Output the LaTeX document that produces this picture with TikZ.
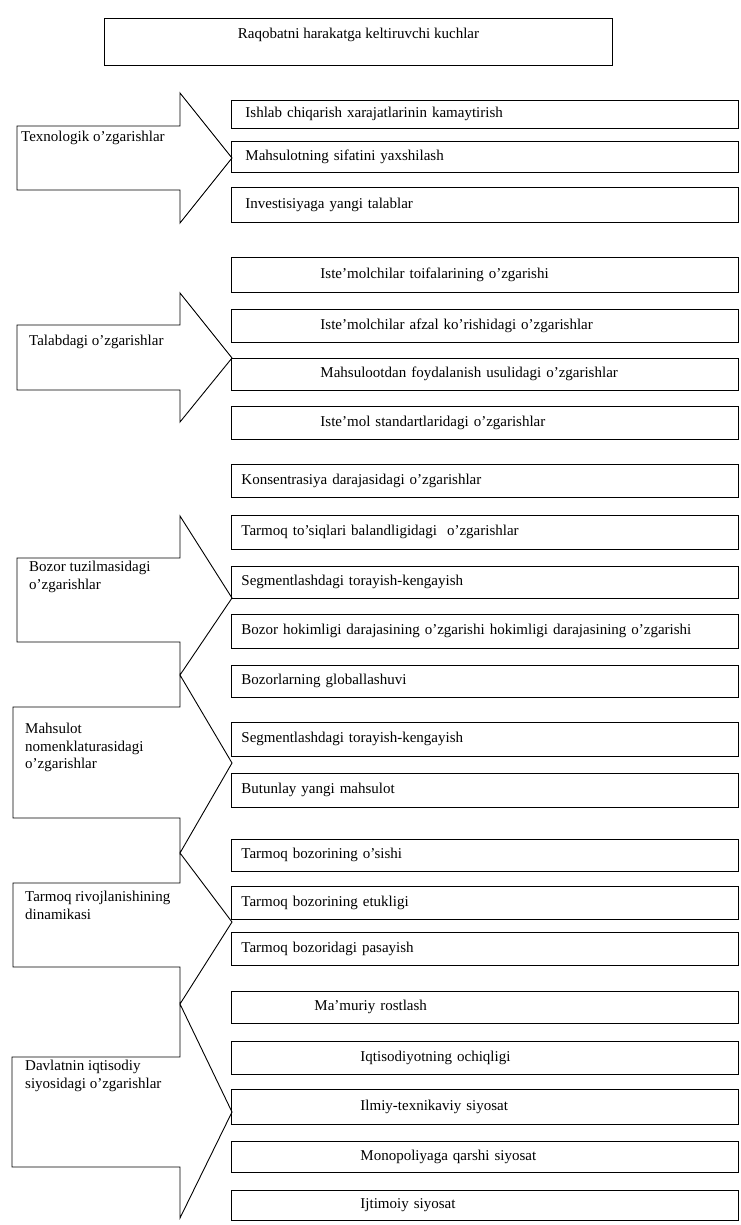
\documentclass[tikz,border=0pt]{standalone}
\usepackage{fontspec}
\setmainfont{Liberation Serif}
\begin{document}
\begin{tikzpicture}[x=1pt,y=-1pt,font=\fontsize{15}{17.5}\selectfont,
  blk/.style={draw,line width=0.9pt,fill=white,line join=miter},
  box/.style={draw,line width=0.9pt,minimum width=507pt,minimum height=33pt,inner xsep=10pt,inner ysep=0pt,
    text width=487pt,align=left,anchor=west},
  lbl/.style={anchor=north west,align=left,inner sep=0pt}]
\useasboundingbox (0,0) rectangle (740,1225);
\node[draw,line width=0.9pt,minimum width=508pt,minimum height=47pt,inner sep=0pt,text height=20pt,text depth=27pt,
  anchor=north west] (title) at (104,18) {Raqobatni harakatga keltiruvchi kuchlar};
\draw[blk] (17,126) -- (180,126) -- (180,93) -- (232,158) -- (180,223) -- (180,190) -- (17,190) -- cycle;
\draw[blk] (17,325) -- (180,325) -- (180,293) -- (232,358) -- (180,422) -- (180,390) -- (17,390) -- cycle;
\draw[blk] (17,558) -- (180,558) -- (180,516) -- (232,598) -- (180,675) -- (180,642) -- (17,642) -- cycle;
\draw[blk] (13,707) -- (180,707) -- (180,675) -- (232,763) -- (180,853) -- (180,818) -- (13,818) -- cycle;
\draw[blk] (13,883) -- (180,883) -- (180,853) -- (232,922) -- (180,1004) -- (180,967) -- (13,967) -- cycle;
\draw[blk] (12,1057) -- (180,1057) -- (180,1004) -- (232,1112) -- (180,1218) -- (180,1167) -- (12,1167) -- cycle;
\node[lbl] (texn) at (21,131) {Texnologik o'zgarishlar};
\node[lbl] (talab) at (29,335) {Talabdagi o'zgarishlar};
\node[lbl] (bozor) at (29,561) {Bozor tuzilmasidagi\\o'zgarishlar};
\node[lbl] (mahs) at (25,723) {Mahsulot\\nomenklaturasidagi\\o'zgarishlar};
\node[lbl] (tarm) at (25,891) {Tarmoq rivojlanishining\\dinamikasi};
\node[lbl] (davl) at (25,1060) {Davlatnin iqtisodiy\\siyosidagi o'zgarishlar};
\node[box,minimum height=28pt] (ishlab) at (231,114) {\hspace*{4pt}Ishlab chiqarish xarajatlarinin kamaytirish};
\node[box,minimum height=31pt] (sifat) at (231,157) {\hspace*{4pt}Mahsulotning sifatini yaxshilash};
\node[box,minimum height=35pt] (invest) at (231,205) {\hspace*{4pt}Investisiyaga yangi talablar};
\node[box,minimum height=35pt] (toifa) at (231,275) {\hspace*{79pt}Iste'molchilar toifalarining o'zgarishi};
\node[box] (afzal) at (231,326) {\hspace*{79pt}Iste'molchilar afzal ko'rishidagi o'zgarishlar};
\node[box,minimum height=32pt] (foyda) at (231,374) {\hspace*{79pt}Mahsulootdan foydalanish usulidagi o'zgarishlar};
\node[box] (standart) at (231,423) {\hspace*{79pt}Iste'mol standartlaridagi o'zgarishlar};
\node[box] (konsent) at (231,481) {Konsentrasiya darajasidagi o'zgarishlar};
\node[box,minimum height=34pt] (tosiq) at (231,532) {Tarmoq to'siqlari balandligidagi\ \ o'zgarishlar};
\node[box,minimum height=32pt] (segm) at (231,582) {Segmentlashdagi torayish-kengayish};
\node[box,minimum height=34pt] (hokim) at (231,631) {Bozor hokimligi darajasining o'zgarishi hokimligi darajasining o'zgarishi};
\node[box,minimum height=32pt] (global) at (231,681) {Bozorlarning globallashuvi};
\node[box,minimum height=34pt] (segmb) at (231,739) {Segmentlashdagi torayish-kengayish};
\node[box,minimum height=34pt] (yangi) at (231,790) {Butunlay yangi mahsulot};
\node[box,minimum height=32pt] (osish) at (231,855) {Tarmoq bozorining o'sishi};
\node[box] (etuk) at (231,903) {Tarmoq bozorining etukligi};
\node[box] (pasay) at (231,949) {Tarmoq bozoridagi pasayish};
\node[box,minimum height=32pt] (mamur) at (231,1007) {\hspace*{73pt}Ma'muriy rostlash};
\node[box] (ochiq) at (231,1058) {\hspace*{119pt}Iqtisodiyotning ochiqligi};
\node[box,minimum height=35pt] (ilmiy) at (231,1107) {\hspace*{119pt}Ilmiy-texnikaviy siyosat};
\node[box,minimum height=31pt] (monop) at (231,1157) {\hspace*{119pt}Monopoliyaga qarshi siyosat};
\node[box,minimum height=30pt] (ijtim) at (231,1205) {\hspace*{119pt}Ijtimoiy siyosat};
\end{tikzpicture}
\end{document}
